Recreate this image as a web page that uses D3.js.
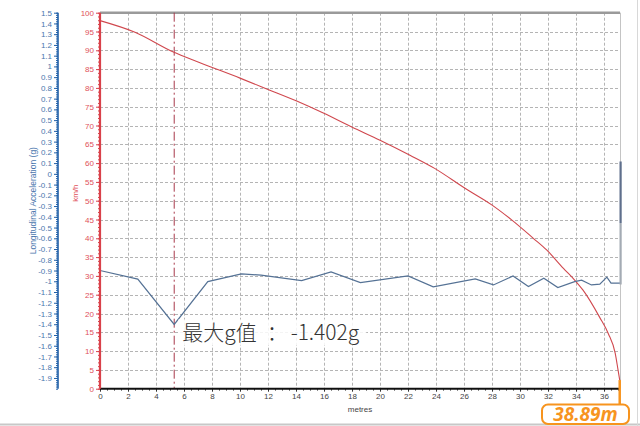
<!DOCTYPE html>
<html>
<head>
<meta charset="utf-8">
<script src="https://cdn.jsdelivr.net/npm/d3@7/dist/d3.min.js"></script>
<style>
  html, body { margin: 0; padding: 0; background: #fff; }
  svg { display: block; }
</style>
</head>
<body>
<svg id="chart" width="640" height="426"></svg>
<script>
// ---- Data ----
const speedX   = [0, 2.5, 5.2, 7.14, 10, 12, 14.05, 15.95, 17.98, 20, 22.14, 23.9, 26.07, 27.98, 29.4, 30.95, 31.9, 33.1, 33.9, 34.5, 35.7, 36.3, 36.8, 37.0, 37.12];
const speedKmh = [97.9, 94.8, 89.6, 86.7, 82.6, 79.6, 76.5, 73.3, 69.6, 66.1, 62.1, 58.6, 53.3, 48.9, 44.9, 40.0, 36.9, 32.0, 28.9, 26.2, 18.9, 14.7, 9.4, 5.0, 2.3];

const accX = [0, 2.7, 5.3, 7.7, 10.1, 11.5, 14.4, 16.5, 18.6, 22.0, 23.8, 26.8, 28.1, 29.5, 30.6, 31.7, 32.7, 33.9, 34.4, 35.1, 35.7, 36.2, 36.5, 37.12];
const accG = [-0.900, -0.980, -1.402, -1.003, -0.931, -0.943, -0.993, -0.912, -1.012, -0.950, -1.052, -0.978, -1.034, -0.950, -1.049, -0.971, -1.059, -1.003, -0.990, -1.034, -1.027, -0.962, -1.018, -1.018];

const xTicks     = d3.range(0, 37, 2);
const speedTicks = d3.range(0, 101, 5);
const gTicks     = d3.range(15, -20, -1).map(v => v / 10);   // 1.5 .. -1.9

const minG = -1.402, minGX = 5.3, totalDist = "38.89m";
const annotationParts = ["最大g值", "：", "-1.402g"];

// ---- Scales ----
const svg = d3.select("#chart");
const x  = d3.scaleLinear().domain([0, 37.14]).range([100, 620]);
const yS = d3.scaleLinear().domain([0, 100]).range([388.7, 12.7]);
const yG = d3.scaleLinear().domain([-2, 1.5]).range([388.7, 12.7]);

const font = "'Liberation Sans', Arial, sans-serif";

// ---- Window border ----
svg.append("line").attr("x1", 0).attr("x2", 640).attr("y1", 424.5).attr("y2", 424.5)
  .attr("stroke", "#c8c8c8").attr("stroke-width", 2);
svg.append("line").attr("x1", 637.5).attr("x2", 637.5).attr("y1", 0).attr("y2", 426)
  .attr("stroke", "#d8d8d8").attr("stroke-width", 1);

// ---- Grid ----
const grid = svg.append("g").attr("stroke", "#b4b4b4").attr("stroke-dasharray", "3,2").attr("stroke-width", 1);
grid.selectAll(".vg").data(xTicks.filter(d => d > 0)).join("line")
  .attr("x1", d => Math.round(x(d)) + 0.5).attr("x2", d => Math.round(x(d)) + 0.5)
  .attr("y1", yS(100)).attr("y2", yS(0));
grid.selectAll(".hg").data(speedTicks.filter(d => d > 0 && d < 100)).join("line")
  .attr("x1", x(0)).attr("x2", x.range()[1])
  .attr("y1", d => Math.round(yS(d)) + 0.5).attr("y2", d => Math.round(yS(d)) + 0.5);

// top border & right border
svg.append("line").attr("x1", x(0)).attr("x2", x.range()[1]).attr("y1", yS(100)).attr("y2", yS(100))
  .attr("stroke", "#9a9a9a").attr("stroke-width", 2.5);
svg.append("line").attr("x1", 620.5).attr("x2", 620.5).attr("y1", yS(100)).attr("y2", yS(0))
  .attr("stroke", "#c4c4c4").attr("stroke-width", 1);
svg.append("rect").attr("x", 619.5).attr("width", 2.2).attr("y", yG(0.115)).attr("height", yG(-0.46) - yG(0.115))
  .attr("fill", "#5f6f8c");
svg.append("rect").attr("x", 619.5).attr("width", 2.2).attr("y", yG(-0.46)).attr("height", yG(-1.03) - yG(-0.46))
  .attr("fill", "#a4abb4");

// ---- Dash-dot marker at minimum ----
svg.append("line").attr("x1", x(minGX)).attr("x2", x(minGX)).attr("y1", yS(100)).attr("y2", yS(0))
  .attr("stroke", "#a8384a").attr("stroke-width", 1).attr("stroke-dasharray", "9,3,2,3");

// ---- Lines ----
svg.append("path").datum(d3.zip(speedX, speedKmh))
  .attr("d", d3.line().x(d => x(d[0])).y(d => yS(d[1])).curve(d3.curveMonotoneX))
  .attr("fill", "none").attr("stroke", "#d0484e").attr("stroke-width", 1.1);

svg.append("path").datum(d3.zip(accX, accG))
  .attr("d", d3.line().x(d => x(d[0])).y(d => yG(d[1])))
  .attr("fill", "none").attr("stroke", "#557295").attr("stroke-width", 1.2);

// ---- X axis ----
const xAxisG = svg.append("g").attr("transform", `translate(0,${yS(0)})`);
xAxisG.append("g").call(d3.axisBottom(x).tickValues(d3.range(0, 37.2, 0.5)).tickSize(2).tickFormat(""))
  .call(g => g.select(".domain").remove())
  .call(g => g.selectAll("line").attr("stroke", "#555"));
xAxisG.append("g").call(d3.axisBottom(x).tickValues(xTicks).tickSize(3).tickPadding(2).tickFormat(d3.format("d")))
  .call(g => g.select(".domain").remove())
  .call(g => g.selectAll("line").attr("stroke", "#333"))
  .call(g => g.selectAll("text").attr("fill", "#444").attr("font-size", 8).attr("font-family", font));
xAxisG.append("line").attr("x1", x(0)).attr("x2", x.range()[1]).attr("y1", 0).attr("y2", 0)
  .attr("stroke", "#111").attr("stroke-width", 2);
svg.append("text").attr("x", 360).attr("y", 412).attr("text-anchor", "middle")
  .attr("font-size", 8).attr("font-family", font).attr("fill", "#444").text("metres");

// ---- Speed axis (red) ----
const sAxis = svg.append("g").attr("transform", `translate(${x(0)},0)`);
sAxis.append("g").call(d3.axisLeft(yS).tickValues(d3.range(0, 101, 1)).tickSize(2).tickFormat(""))
  .call(g => g.select(".domain").remove())
  .call(g => g.selectAll("line").attr("stroke", "#d9414a"));
sAxis.append("g").call(d3.axisLeft(yS).tickValues(speedTicks).tickSize(4).tickPadding(2).tickFormat(d3.format("d")))
  .call(g => g.select(".domain").remove())
  .call(g => g.selectAll("line").attr("stroke", "#d9414a"))
  .call(g => g.selectAll("text").attr("fill", "#e0505a").attr("font-size", 8).attr("font-family", font));
sAxis.append("line").attr("x1", 0).attr("x2", 0).attr("y1", yS(100)).attr("y2", yS(0))
  .attr("stroke", "#d9414a").attr("stroke-width", 2.2);
svg.append("text").attr("transform", `translate(78,${yS(52)}) rotate(-90)`).attr("text-anchor", "middle")
  .attr("font-size", 8).attr("font-family", font).attr("fill", "#e0505a").text("km/h");

// ---- Acceleration axis (blue) ----
const gAxis = svg.append("g").attr("transform", "translate(58,0)");
gAxis.append("g").call(d3.axisLeft(yG).tickValues(d3.range(-100, 76, 1).map(v => v / 50)).tickSize(2).tickFormat(""))
  .call(g => g.select(".domain").remove())
  .call(g => g.selectAll("line").attr("stroke", "#2060a8"));
gAxis.append("g").call(d3.axisLeft(yG).tickValues(gTicks).tickSize(4).tickPadding(2).tickFormat(d => String(+d.toFixed(1))))
  .call(g => g.select(".domain").remove())
  .call(g => g.selectAll("line").attr("stroke", "#2060a8"))
  .call(g => g.selectAll("text").attr("fill", "#4a76ad").attr("font-size", 8).attr("font-family", font));
gAxis.append("line").attr("x1", 0).attr("x2", 0).attr("y1", yG(1.5)).attr("y2", yG(-2))
  .attr("stroke", "#2060a8").attr("stroke-width", 1.6);
svg.append("text").attr("transform", `translate(36,${yG(-0.25)}) rotate(-90)`).attr("text-anchor", "middle")
  .attr("font-size", 8.5).attr("font-family", font).attr("fill", "#4a76ad").text("Longitudinal Acceleration (g)");

// ---- Annotation ----
svg.append("rect").attr("x", x(minGX) + 4).attr("y", yG(minG) - 5).attr("width", 188).attr("height", 26)
  .attr("fill", "#ffffff").attr("opacity", 0.85);
const ann = svg.append("text").attr("x", x(minGX) + 8).attr("y", yG(minG) + 16)
  .attr("font-size", 21).attr("font-weight", 300).attr("fill", "#333")
  .attr("font-family", "'Noto Sans CJK SC', 'Noto Sans', sans-serif");
ann.append("tspan").text(annotationParts[0]);
ann.append("tspan").attr("dx", 10).text(annotationParts[1]);
ann.append("tspan").attr("dx", 3).text(annotationParts[2]);

// ---- Distance callout ----
const endX = x(speedX[speedX.length - 1]);
svg.append("line").attr("x1", endX).attr("x2", endX).attr("y1", yS(speedKmh[speedKmh.length - 1])).attr("y2", 405)
  .attr("stroke", "#f7941e").attr("stroke-width", 2.5);
svg.append("rect").attr("x", 542).attr("y", 404.5).attr("width", 87).attr("height", 19.5).attr("rx", 6)
  .attr("fill", "#fff").attr("stroke", "#f7941e").attr("stroke-width", 2);
svg.append("text").attr("x", 585.5).attr("y", 420.5).attr("text-anchor", "middle")
  .attr("font-size", 19).attr("font-style", "italic").attr("font-weight", "bold").attr("fill", "#f7941e")
  .attr("font-family", "'Open Sans', 'DejaVu Sans', sans-serif").text(totalDist);
</script>
</body>
</html>
